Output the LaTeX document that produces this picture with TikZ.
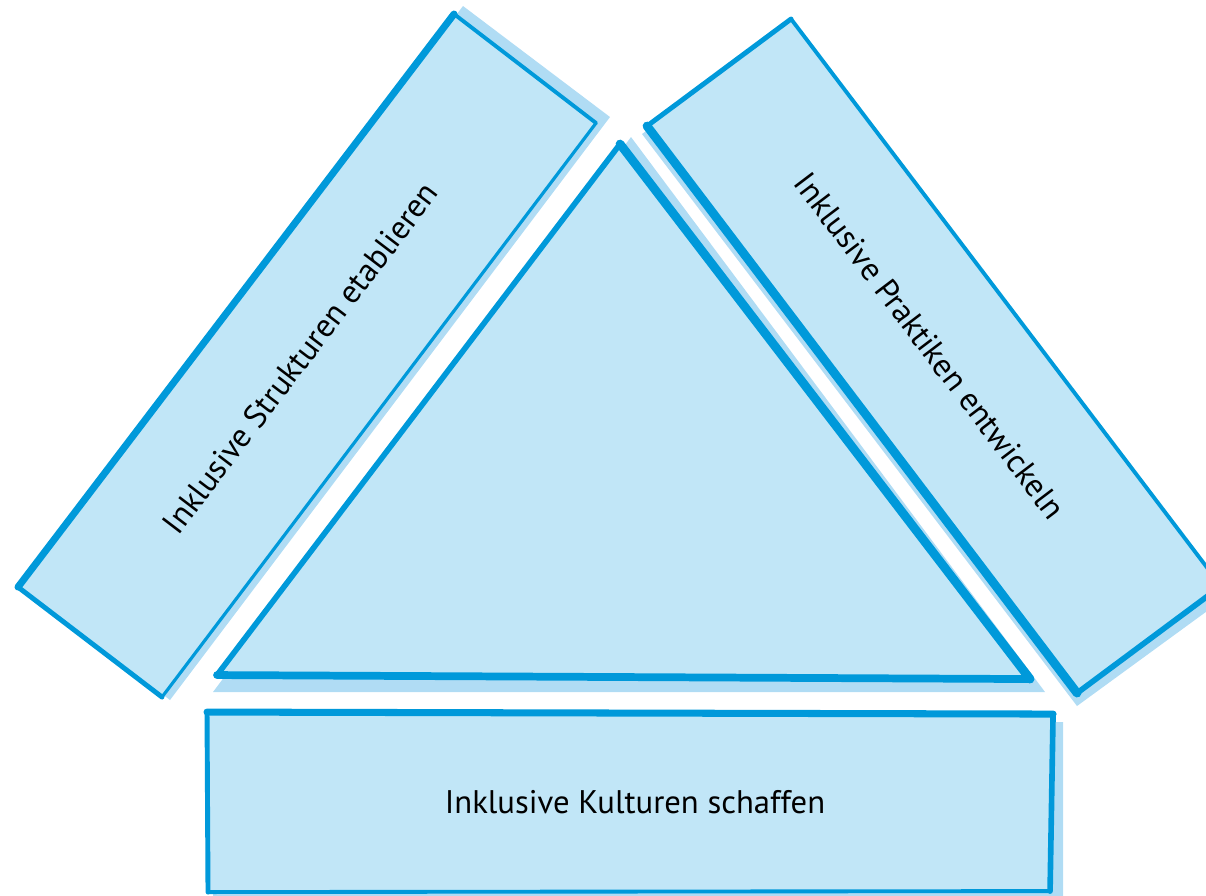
\documentclass[tikz,border=0pt]{standalone}
\usepackage{fontspec}
\setmainfont{PT Sans}
\usepackage{tikz}
\usepackage{xcolor}
\usetikzlibrary{positioning}
\definecolor{ibBlue}{RGB}{0,153,218}
\definecolor{ibFill}{RGB}{193,230,247}
\definecolor{ibPale}{RGB}{176,220,244}

\begin{document}
\begin{tikzpicture}[scale=0.1]
\tikzstyle{every node}+=[inner sep=0pt, font=\fontsize{9.3}{11}\selectfont]
\tikzstyle{pale}=[fill=ibPale]
\tikzstyle{panel}=[fill=ibFill]
\tikzstyle{rim}=[draw=ibBlue, line cap=round, line join=round]
\useasboundingbox (0,0) rectangle (120.6,-89.5);
\coordinate (sT) at (45.4,-1.4);
\coordinate (sR) at (59.6,-12.3);
\coordinate (sB) at (16.2,-69.7);
\coordinate (sL) at (1.8,-58.7);
\coordinate (tA) at (62.0,-14.4);
\coordinate (tL) at (21.7,-67.5);
\coordinate (tR) at (103.0,-67.9);
\coordinate (pT) at (79.1,-1.9);
\coordinate (pL) at (64.7,-12.6);
\coordinate (pB) at (107.7,-69.3);
\coordinate (pR) at (122.1,-58.6);
\coordinate (kTL) at (20.7,-71.2);
\coordinate (kTR) at (105.3,-71.4);
\coordinate (kBR) at (105.0,-89.1);
\coordinate (kBL) at (20.8,-89.2);
\fill [pale] (46.3,-0.6) -- (61.0,-11.7) -- (17.0,-70.0) -- (2.0,-58.6) -- cycle;
\fill [pale] (63.1,-13.7) -- (104.5,-69.2) -- (21.3,-69.2) -- cycle;
\fill [pale] (78.9,-2.8) -- (64.2,-13.4) -- (107.7,-70.6) -- (122.5,-59.8) -- cycle;
\fill [pale] (21.3,-72.0) -- (106.3,-72.2) -- (106.3,-90.0) -- (21.3,-90.0) -- cycle;
\fill [panel] (sT) -- (sR) -- (sB) -- (sL) -- cycle;
\fill [panel] (tA) -- (tR) -- (tL) -- cycle;
\fill [panel] (pT) -- (pR) -- (pB) -- (pL) -- cycle;
\fill [panel] (kTL) -- (kTR) -- (kBR) -- (kBL) -- cycle;
\draw [rim, line width=2pt] (sT) -- (sL);
\draw [rim, line width=1.1pt] (sT) -- (sR);
\draw [rim, line width=0.9pt] (sR) -- (sB);
\draw [rim, line width=1.4pt] (sB) -- (sL);
\draw [rim, line width=1.6pt] (tA) -- (tL);
\draw [rim, line width=2.5pt] (tA) -- (tR);
\draw [rim, line width=2.2pt] (tL) -- (tR);
\draw [rim, line width=1.4pt] (pT) -- (pL);
\draw [rim, line width=2.5pt] (pL) -- (pB);
\draw [rim, line width=1.6pt] (pB) -- (pR);
\draw [rim, line width=1.1pt] (pR) -- (pT);
\draw [rim, line width=2pt] (kTL) -- (kTR);
\draw [rim, line width=1.6pt] (kTR) -- (kBR);
\draw [rim, line width=1.1pt] (kBR) -- (kBL);
\draw [rim, line width=1.4pt] (kBL) -- (kTL);
\node (struk) at (30.0,-35.8) [rotate=52.7] {Inklusive Strukturen etablieren};
\node (prak) at (93.0,-34.6) [rotate=-52.8] {Inklusive Praktiken entwickeln};
\node (kult) at (63.5,-81.3) [anchor=base] {Inklusive Kulturen schaffen};
\end{tikzpicture}
\end{document}
